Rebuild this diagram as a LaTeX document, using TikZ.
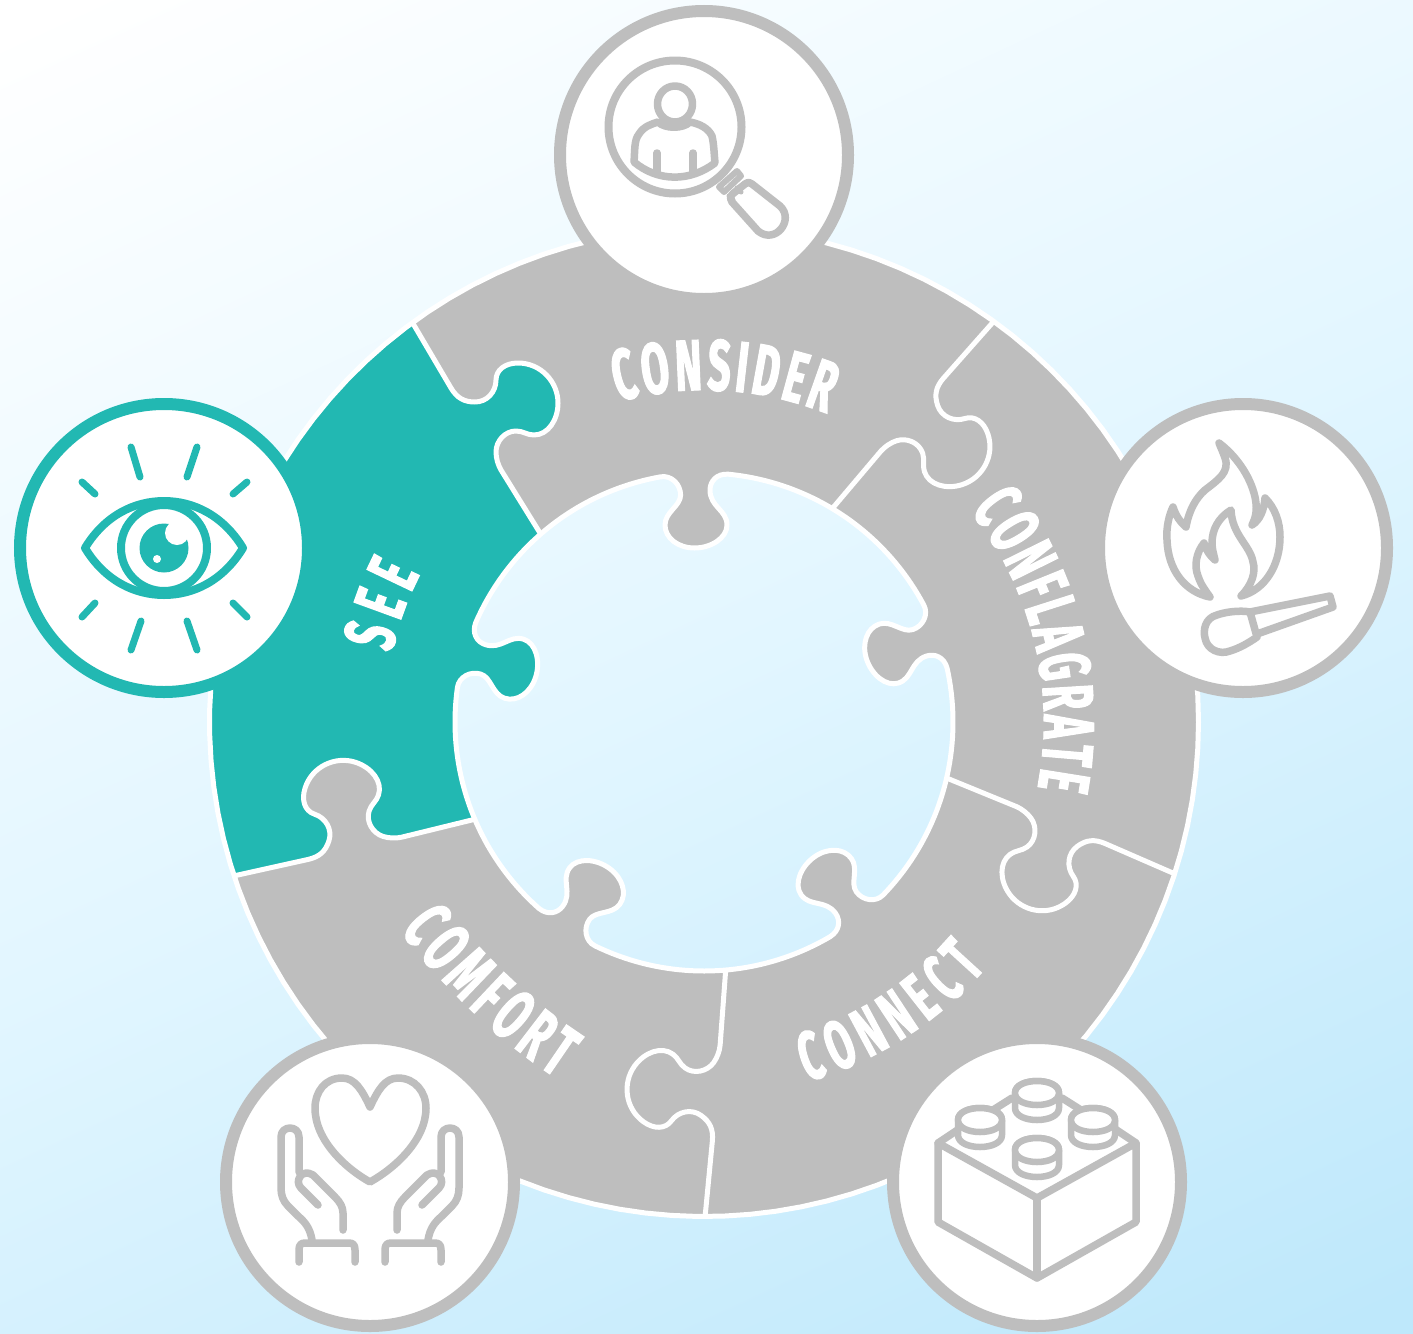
\documentclass[tikz,border=0pt]{standalone}
\usepackage{fontspec}
\usetikzlibrary{decorations.text}
\newfontfamily\din{Fira Sans}[UprightFont={* Bold},FakeStretch=.56,FakeBold=1.6]
\definecolor{ringgray}{HTML}{BEBEBE}
\definecolor{teal}{HTML}{22B8B2}
\definecolor{bgend}{HTML}{BEE8FB}
\definecolor{bgmid}{HTML}{E2F6FF}
\pgfdeclareverticalshading{bgshade}{100bp}{color(0bp)=(bgend); color(18bp)=(bgend); color(50bp)=(bgmid); color(82bp)=(white); color(100bp)=(white)}
\def\lab{\din\fontsize{72}{76}\selectfont\color{white}}
\def\labs{\din\fontsize{69}{76}\selectfont\color{white}}
\tikzset{
  rr/.style={rotate around={#1:(704,722)}},
  seamline/.style={draw=white,line width=5pt,line join=round},
  badge/.style={fill=white,line width=12pt},
  icon/.style={draw=ringgray,line width=7.5pt,line cap=round,line join=round},
  eyeicon/.style={draw=teal,line width=7pt,line cap=round,line join=round},
}
% arcs, continuing the current path
\def\IA#1#2{-- plot[domain=#1:#2,samples=40] ({704+249*cos(\x)},{722+249*sin(\x)})}
\def\OA#1#2{-- plot[domain=#1:#2,samples=60] ({704+494*cos(\x)},{722+494*sin(\x)})}
% the hole's tab, turned about the ring's centre
\def\TabM#1{-- ([rr=#1]660.8,476.8) .. controls ([rr=#1]671,475) and ([rr=#1]680.6,484) .. ([rr=#1]680.6,495)
 .. controls ([rr=#1]680.6,506) and ([rr=#1]665,512) .. ([rr=#1]665,525)
 .. controls ([rr=#1]665,538) and ([rr=#1]678,548) .. ([rr=#1]694.5,548)
 .. controls ([rr=#1]711,548) and ([rr=#1]727,538) .. ([rr=#1]727,525)
 .. controls ([rr=#1]727,510) and ([rr=#1]710,507) .. ([rr=#1]710,490)
 .. controls ([rr=#1]710,481) and ([rr=#1]717,473.5) .. ([rr=#1]727.9,474.2)}
% seam from the inner rim out, and back
\def\SeamOut#1{-- ([rr=#1]501,470) .. controls ([rr=#1]498,465) and ([rr=#1]496,458) .. ([rr=#1]496,452)
 .. controls ([rr=#1]496,441) and ([rr=#1]505,431) .. ([rr=#1]516,431)
 .. controls ([rr=#1]523,431) and ([rr=#1]527,435) .. ([rr=#1]534,435)
 .. controls ([rr=#1]548,435) and ([rr=#1]558,420) .. ([rr=#1]558,403)
 .. controls ([rr=#1]558,382) and ([rr=#1]541,363) .. ([rr=#1]518,363)
 .. controls ([rr=#1]505,363) and ([rr=#1]496,370) .. ([rr=#1]496,380)
 .. controls ([rr=#1]496,392) and ([rr=#1]487,402) .. ([rr=#1]475,402)
 .. controls ([rr=#1]464,402) and ([rr=#1]457,398) .. ([rr=#1]451,388)
 -- ([rr=#1]413,323.5)}
\def\SeamIn#1{-- ([rr=#1]451,388) .. controls ([rr=#1]457,398) and ([rr=#1]464,402) .. ([rr=#1]475,402)
 .. controls ([rr=#1]487,402) and ([rr=#1]496,392) .. ([rr=#1]496,380)
 .. controls ([rr=#1]496,370) and ([rr=#1]505,363) .. ([rr=#1]518,363)
 .. controls ([rr=#1]541,363) and ([rr=#1]558,382) .. ([rr=#1]558,403)
 .. controls ([rr=#1]558,420) and ([rr=#1]548,435) .. ([rr=#1]534,435)
 .. controls ([rr=#1]527,435) and ([rr=#1]523,431) .. ([rr=#1]516,431)
 .. controls ([rr=#1]505,431) and ([rr=#1]496,441) .. ([rr=#1]496,452)
 .. controls ([rr=#1]496,458) and ([rr=#1]498,465) .. ([rr=#1]501,470)
 -- ([rr=#1]540,533)}
\def\HolePath{(660.8,476.8) \TabM{0} \IA{275.5}{332} \TabM{-72} \IA{347.5}{404} \TabM{-144} \IA{419.5}{476} \TabM{-216} \IA{491.5}{548} \TabM{-288} \IA{563.5}{620} -- cycle}
\newcommand\stud[2]{%
  \path[icon,line width=6.5pt,fill=white] ({#1-22},{#2}) -- ({#1-22},{#2+15}) .. controls ({#1-22},{#2+31}) and ({#1+22},{#2+31}) .. ({#1+22},{#2+15}) -- ({#1+22},{#2}) .. controls ({#1+22},{#2-16}) and ({#1-22},{#2-16}) .. cycle;
  \path[icon,line width=6.5pt,fill=white] ({#1-22},{#2}) .. controls ({#1-22},{#2+16}) and ({#1+22},{#2+16}) .. ({#1+22},{#2}) .. controls ({#1+22},{#2-16}) and ({#1-22},{#2-16}) .. cycle;
}
\begin{document}
\begin{tikzpicture}[x=1pt,y=-1pt]
\useasboundingbox (0,0) rectangle (1413,1333);
\shade[shading=bgshade,shading angle=25] (0,0) rectangle (1413,1333);
% ring
\fill[ringgray,even odd rule] (1198,722) \OA{0}{360} -- cycle \HolePath;
% SEE piece
\fill[teal] ([rr=72]540,533) \IA{157.05}{188} \TabM{72} \IA{203.5}{229.05} \SeamOut{0} \OA{233.85}{161.85} \SeamIn{72} -- cycle;
% outlines
\draw[seamline] (1198.5,722) -- plot[domain=0:360,samples=120] ({704+494.5*cos(\x)},{722+494.5*sin(\x)}) -- cycle;
\draw[seamline] \HolePath;
\foreach \k in {0,-72,-144,-216,-288}{
  \draw[seamline] ([rr=\k]540,533) \SeamOut{\k};
}
% labels
\path[decorate,decoration={text along path,text={|\lab|CONSIDER},text align={fit to path}}]
  plot[domain=255:291.7,samples=60] ({704+332*cos(\x)},{722+332*sin(\x)});
\path[decorate,decoration={text along path,text={|\lab|CONFLAGRATE},text align={fit to path}}]
  plot[domain=-38.5:11.2,samples=60] ({704+340*cos(\x)},{722+340*sin(\x)});
\path[decorate,decoration={text along path,text={|\labs|CONNECT},text align={fit to path}}]
  plot[domain=74:41,samples=60] ({704+374*cos(\x)},{722+374*sin(\x)});
\path[decorate,decoration={text along path,text={|\lab|COMFORT},text align={fit to path}}]
  (400,930) .. controls (444,988) and (498,1040) .. (556,1078);
\path[decorate,decoration={text along path,text={|\lab|SEE},text align={fit to path}}]
  plot[domain=192.5:207.5,samples=30] ({704+320*cos(\x)},{722+320*sin(\x)});
% badges
\draw[badge,draw=ringgray] (704,155) circle[radius=144pt];
\draw[badge,draw=teal] (164,548) circle[radius=144pt];
\draw[badge,draw=ringgray] (1243,548) circle[radius=144pt];
\draw[badge,draw=ringgray] (370,1182) circle[radius=144pt];
\draw[badge,draw=ringgray] (1037,1182) circle[radius=144pt];
% magnifier
\draw[icon,line width=8pt] (675,127) circle[radius=66.5pt];
\draw[icon] (675,104) ellipse[x radius=17.5pt,y radius=18pt];
\draw[icon] (634,162) .. controls (635,150) and (634,140) .. (639,134) .. controls (644,126) and (652,124) .. (658,122) .. controls (665,129) and (683,129) .. (690,122) .. controls (700,124) and (708,128) .. (712,136) .. controls (714,145) and (714,153) .. (715,163) .. controls (690,182) and (658,182) .. (634,162) -- cycle;
\draw[icon] (657,153) -- (657,172) (693,153) -- (693,172);
\draw[icon,line width=6pt] (719,187) -- (737,171) -- (741,176) -- (724,192) -- cycle;
\draw[icon,line width=5pt] (729,196) -- (733,200) (737,188) -- (741,192);
\draw[icon] (752,184) -- (780,206) .. controls (795,220) and (775,245) .. (758,231) -- (732,202) .. controls (729,197) and (731,195) .. (735,192) -- (745,184) .. controls (748,182) and (750,182) .. (752,184) -- cycle;
% eye
\draw[eyeicon,line width=8pt] (85,548) .. controls (105,515) and (135,501) .. (164,501) .. controls (193,501) and (223,515) .. (243,548) .. controls (223,581) and (193,595) .. (164,595) .. controls (135,595) and (105,581) .. (85,548) -- cycle;
\draw[eyeicon,line width=8pt] (164,548) circle[radius=43pt];
\fill[teal] (164,548) circle[radius=24.5pt];
\fill[white] (177,533) circle[radius=12pt];
\fill[white] (157,559) circle[radius=4pt];
\draw[eyeicon] (131,447) -- (140,477) (197,447) -- (187,477) (82,482) -- (95,494) (247,482) -- (233,494)
  (95,603) -- (82,617) (233,603) -- (247,617) (141,621) -- (131,650) (187,621) -- (197,650);
% flame and match
\draw[icon] (1219,443) .. controls (1235,455) and (1250,475) .. (1255,497) .. controls (1257,507) and (1257,515) .. (1252,525) .. controls (1260,520) and (1264,510) .. (1265,498) .. controls (1275,508) and (1280,522) .. (1280,537) .. controls (1280,565) and (1265,590) .. (1241,596) .. controls (1252,585) and (1256,572) .. (1253,562) .. controls (1250,545) and (1232,535) .. (1231,510) .. controls (1218,518) and (1212,530) .. (1212,543) .. controls (1212,550) and (1214,555) .. (1215,560) .. controls (1210,556) and (1206,550) .. (1204,543) .. controls (1196,553) and (1194,566) .. (1198,576) .. controls (1201,585) and (1205,590) .. (1210,597) .. controls (1185,592) and (1168,570) .. (1167,540) .. controls (1166,528) and (1169,515) .. (1173,507) .. controls (1176,516) and (1180,522) .. (1186,527) .. controls (1189,510) and (1196,498) .. (1205,490) .. controls (1218,480) and (1230,472) .. (1225,458) .. controls (1223,452) and (1221,448) .. (1219,443) -- cycle;
\draw[icon] (1250,612) .. controls (1240,610) and (1225,612) .. (1217,615) .. controls (1205,618) and (1203,630) .. (1205,638) .. controls (1207,650) and (1220,655) .. (1230,651) .. controls (1240,648) and (1250,642) .. (1257,637) -- cycle;
\draw[icon] (1250,612) -- (1330,596) -- (1333,607) -- (1257,634);
% brick
\draw[icon] (938,1143) -- (938,1222) -- (1037,1278) -- (1136,1222) -- (1136,1143) -- (1037,1198) -- cycle;
\draw[icon] (1037,1198) -- (1037,1278);
\draw[icon] (938,1143) -- (965,1125) (1136,1143) -- (1109,1125) (1012,1098) -- (993,1110) (1062,1098) -- (1081,1110);
\stud{1037}{1093}
\stud{980}{1120}
\stud{1093}{1120}
\stud{1037}{1150}
% heart and hands
\draw[icon] (370,1107) .. controls (362,1090) and (355,1078) .. (342,1078) .. controls (325,1078) and (315,1092) .. (315,1108) .. controls (315,1140) and (345,1168) .. (370,1182) .. controls (395,1168) and (426,1140) .. (426,1108) .. controls (426,1092) and (415,1078) .. (398,1078) .. controls (385,1078) and (378,1090) .. (370,1107) -- cycle;
\draw[icon] (312,1240) .. controls (310,1228) and (305,1222) .. (298,1216) -- (288,1206) .. controls (283,1201) and (281,1195) .. (281,1188) -- (281,1137) .. controls (281,1125) and (299,1125) .. (299,1137) -- (299,1172);
\draw[icon] (318,1205) -- (301,1188) .. controls (294,1181) and (302,1168) .. (313,1175) -- (335,1197) .. controls (340,1202) and (343,1207) .. (343,1213) -- (343,1230);
\draw[icon] (299,1262) -- (299,1250) .. controls (299,1245) and (301,1243) .. (305,1243) -- (349,1243) .. controls (353,1243) and (355,1245) .. (355,1250) -- (355,1262);
\draw[icon] (428,1240) .. controls (430,1228) and (435,1222) .. (442,1216) -- (452,1206) .. controls (457,1201) and (459,1195) .. (459,1188) -- (459,1137) .. controls (459,1125) and (441,1125) .. (441,1137) -- (441,1172);
\draw[icon] (422,1205) -- (439,1188) .. controls (446,1181) and (438,1168) .. (427,1175) -- (405,1197) .. controls (400,1202) and (397,1207) .. (397,1213) -- (397,1230);
\draw[icon] (441,1262) -- (441,1250) .. controls (441,1245) and (439,1243) .. (435,1243) -- (391,1243) .. controls (387,1243) and (385,1245) .. (385,1250) -- (385,1262);
\end{tikzpicture}
\end{document}
